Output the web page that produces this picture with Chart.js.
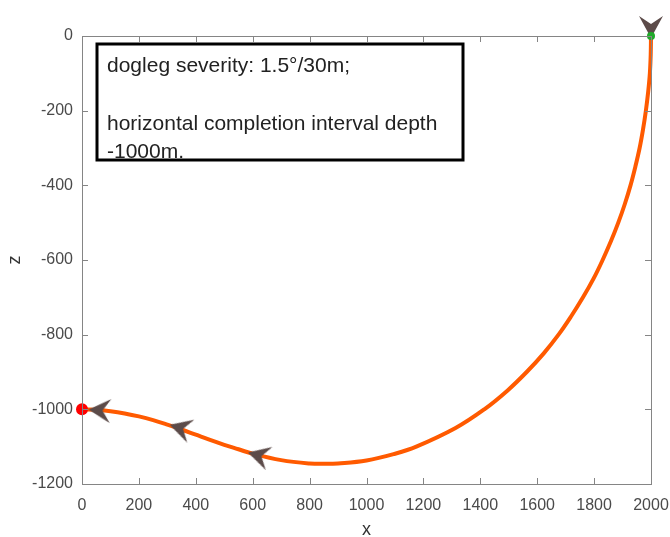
<!DOCTYPE html>
<html>
<head>
<meta charset="utf-8">
<script src="https://cdn.jsdelivr.net/npm/chart.js@4/dist/chart.umd.min.js"></script>
<style>
  html, body { margin: 0; padding: 0; background: #fff; }
  #wrap { width: 670px; height: 537px; }
</style>
</head>
<body>
<div id="wrap"><canvas id="chart" width="670" height="537"></canvas></div>
<script>
// well path (start at surface, end at horizontal section)
var wellX = [2000, 1999, 1996, 1990, 1982, 1972, 1960, 1945, 1928, 1908, 1885, 1859, 1830, 1798, 1761, 1720, 1675, 1623, 1563, 1495, 1414, 1313, 1175, 1100, 1000, 900, 854, 800, 700, 600, 550, 500, 450, 400, 350, 300, 250, 200, 150, 100, 50, 0];
var wellZ = [0, -50, -100, -150, -200, -250, -300, -350, -400, -450, -500, -550, -600, -650, -700, -750, -800, -850, -900, -950, -1000, -1050, -1100, -1119, -1137, -1145, -1146, -1145, -1136, -1119, -1107, -1095, -1082, -1068, -1054, -1041, -1029, -1019, -1011, -1005, -1001, -1000];

// direction arrows along the path
var arrowX = [2000, 590, 315, 30];
var arrowZ = [0, -1117, -1043, -1001];
var arrowAngle = [90, 196, 197, 184];

var startPoint = { x: 2000, z: 0 };
var endPoint = { x: 0, z: -1000 };

var xTicks = [0, 200, 400, 600, 800, 1000, 1200, 1400, 1600, 1800, 2000];
var zTicks = [-1200, -1000, -800, -600, -400, -200, 0];

var noteLines = ["dogleg severity: 1.5\u00b0/30m;", "", "horizontal completion interval depth", "-1000m."];

var axisColor = "#858585";
var labelColor = "#4a4a4a";
var fontFamily = "'Liberation Sans', Arial, sans-serif";

function toPoints(xs, zs) {
    var pts = [];
    for (var i = 0; i < xs.length; i++) pts.push({ x: xs[i], y: zs[i] });
    return pts;
}

// arrow head image, tip at center pointing right
function makeArrow() {
    var c = document.createElement("canvas");
    c.width = 48; c.height = 48;
    var g = c.getContext("2d");
    g.fillStyle = "#5c4b49";
    g.beginPath();
    g.moveTo(26, 24);
    g.lineTo(4, 12);
    g.lineTo(12, 24);
    g.lineTo(4, 36);
    g.closePath();
    g.fill();
    return c;
}
var arrowImg = makeArrow();

var boxPlugin = {
    id: "boxPlugin",
    afterDraw: function (chart) {
        var ctx = chart.ctx;
        var a = chart.chartArea;
        var sx = chart.scales.x, sy = chart.scales.y;
        ctx.save();
        ctx.strokeStyle = axisColor;
        ctx.lineWidth = 1;
        ctx.strokeRect(a.left + 0.5, a.top + 0.5, a.right - a.left, a.bottom - a.top);
        ctx.beginPath();
        var t = 6;
        sx.ticks.forEach(function (tk, i) {
            var px = Math.round(sx.getPixelForTick(i)) + 0.5;
            ctx.moveTo(px, a.bottom); ctx.lineTo(px, a.bottom - t);
            ctx.moveTo(px, a.top); ctx.lineTo(px, a.top + t);
        });
        sy.ticks.forEach(function (tk, i) {
            var py = Math.round(sy.getPixelForTick(i)) + 0.5;
            ctx.moveTo(a.left, py); ctx.lineTo(a.left + t, py);
            ctx.moveTo(a.right, py); ctx.lineTo(a.right - t, py);
        });
        ctx.stroke();

        // note box
        var bx = a.left + 15, by = a.top + 8, bw = 366, bh = 116;
        ctx.strokeStyle = "#000";
        ctx.lineWidth = 3;
        ctx.fillStyle = "#fff";
        ctx.fillRect(bx, by, bw, bh);
        ctx.fillStyle = "#222";
        ctx.font = "21px " + fontFamily;
        ctx.textBaseline = "alphabetic";
        var baseY = [by + 28, by + 57, by + 86, by + 114];
        noteLines.forEach(function (s, i) {
            if (s) ctx.fillText(s, bx + 10, baseY[i]);
        });
        ctx.strokeRect(bx, by, bw, bh);
        ctx.restore();
    }
};

new Chart(document.getElementById("chart"), {
    type: "line",
    data: {
        datasets: [
            {
                label: "green",
                data: [{ x: startPoint.x, y: startPoint.z }],
                pointRadius: 4,
                pointBackgroundColor: "#1faa2a",
                pointBorderWidth: 0,
                showLine: false,
                order: 1
            },
            {
                label: "arrows",
                data: toPoints(arrowX, arrowZ),
                pointStyle: arrowImg,
                rotation: function (ctx) { return arrowAngle[ctx.dataIndex]; },
                showLine: false,
                order: 2
            },
            {
                label: "red",
                data: [{ x: endPoint.x, y: endPoint.z }],
                pointRadius: 6,
                pointBackgroundColor: "#ff0000",
                pointBorderWidth: 0,
                showLine: false,
                order: 3
            },
            {
                label: "path",
                data: toPoints(wellX, wellZ),
                borderColor: "#ff5a00",
                borderWidth: 4,
                pointRadius: 0,
                tension: 0.4,
                fill: false,
                order: 4
            }
        ]
    },
    options: {
        responsive: false,
        animation: false,
        clip: false,
        layout: { padding: { top: 36, right: 19, left: 0, bottom: 0 } },
        plugins: {
            legend: { display: false },
            tooltip: { enabled: false }
        },
        scales: {
            x: {
                type: "linear",
                min: 0, max: 2000,
                afterBuildTicks: function (s) { s.ticks = xTicks.map(function (v) { return { value: v }; }); },
                grid: { display: false, drawTicks: false },
                border: { display: false },
                ticks: {
                    autoSkip: false, maxRotation: 0, padding: 12,
                    color: labelColor,
                    font: { size: 16, family: fontFamily },
                    callback: function (v) { return String(v); }
                },
                title: {
                    display: true, text: "x", color: "#333",
                    font: { size: 18, family: fontFamily },
                    padding: { top: 14, bottom: -4 }
                },
                afterFit: function (s) {
                    s.height = 53;
                    s.paddingLeft = 0;
                    s.paddingRight = 0;
                }
            },
            y: {
                type: "linear",
                min: -1200, max: 0,
                afterBuildTicks: function (s) { s.ticks = zTicks.map(function (v) { return { value: v }; }); },
                grid: { display: false, drawTicks: false },
                border: { display: false },
                ticks: {
                    autoSkip: false, padding: 9,
                    color: labelColor,
                    font: { size: 16, family: fontFamily },
                    callback: function (v) { return String(v); }
                },
                title: {
                    display: true, text: "z", color: "#333",
                    font: { size: 18, family: fontFamily },
                    padding: { top: 4, bottom: 0 }
                },
                afterFit: function (s) {
                    s.width = 82;
                    s.paddingTop = 0;
                    s.paddingBottom = 0;
                }
            }
        }
    },
    plugins: [boxPlugin]
});
</script>
</body>
</html>
